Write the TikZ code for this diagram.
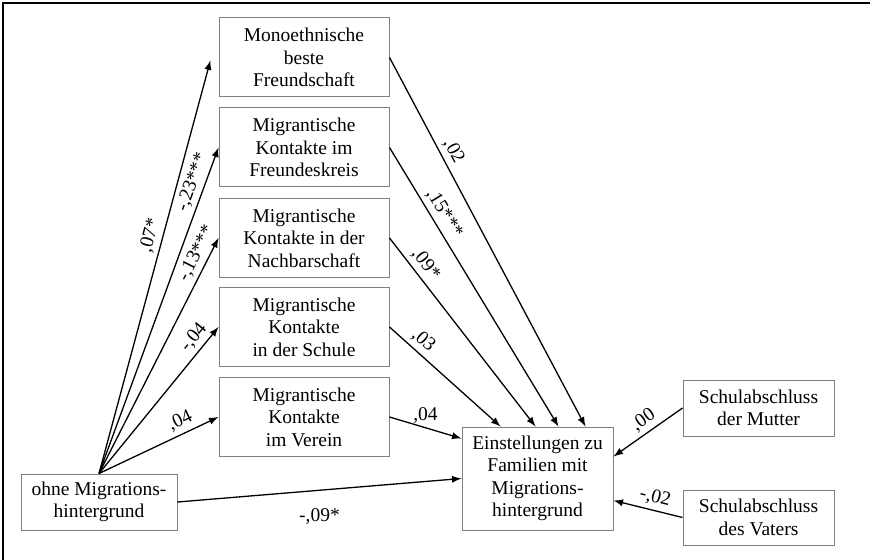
\documentclass[tikz,border=0pt]{standalone}
\usepackage{fontspec}
\setmainfont{Liberation Serif}
\usetikzlibrary{arrows}
\begin{document}
\begin{tikzpicture}[x=0.5pt,y=-0.5pt]
\tikzstyle{kasten}=[draw=gray, line width=0.5pt, minimum width=85pt, minimum height=39.5pt, inner sep=1pt, align=center, font=\rmfamily\fontsize{9.75}{11.25}\selectfont]
\tikzstyle{pfeil}=[-latex, line width=0.65pt]
\tikzstyle{wert}=[font=\rmfamily\fontsize{9.75}{11.25}\selectfont, inner sep=2pt]
\useasboundingbox (0,0) rectangle (870,560);
\draw[line width=1pt] (870,3) -- (3,3) -- (3,560);
% Kasten
\draw (304,57.5) node (mono) [kasten] {Monoethnische\\beste\\Freundschaft};
\draw (304,147.5) node (freund) [kasten] {Migrantische\\Kontakte im\\Freundeskreis};
\draw (304,238) node (nachbar) [kasten] {Migrantische\\Kontakte in der\\Nachbarschaft};
\draw (304,327) node (schule) [kasten] {Migrantische\\Kontakte\\in der Schule};
\draw (304,417) node (verein) [kasten] {Migrantische\\Kontakte\\im Verein};
\draw (99,502) node (ohne) [kasten, minimum width=78pt, minimum height=28pt] {ohne Migrations-\\hintergrund};
\draw (537.5,478.5) node (ziel) [kasten, minimum width=75.5pt, minimum height=51.5pt] {Einstellungen zu\\Familien mit\\Migrations-\\hintergrund};
\draw (758.5,408) node (mutter) [kasten, minimum width=75.5pt, minimum height=28pt] {Schulabschluss\\der Mutter};
\draw (758.5,517.5) node (vater) [kasten, minimum width=75.5pt, minimum height=27.5pt] {Schulabschluss\\des Vaters};
% Pfade
\draw [pfeil, shorten >=15.5pt] (ohne.north) -- ([yshift=13.5pt]mono.west) node [wert, sloped, above, pos=.53] {,07*};
\draw [pfeil] (ohne.north) -- (freund.west) node [wert, sloped, above, pos=.88] {-,23***};
\draw [pfeil] (ohne.north) -- (nachbar.west) node [wert, sloped, above, pos=.91] {-,13***};
\draw [pfeil] (ohne.north) -- (schule.west) node [wert, sloped, above, pos=.875] {-,04};
\draw [pfeil] (ohne.north) -- (verein.west) node [wert, sloped, above, pos=.725] {,04};
\draw [pfeil] (mono.east) -- ([xshift=62pt]ziel.north west) node [wert, sloped, above, pos=.27] {,02};
\draw [pfeil] (freund.east) -- ([xshift=48.5pt]ziel.north west) node [wert, sloped, above, pos=.26] {,15***};
\draw [pfeil] (nachbar.east) -- ([xshift=37pt]ziel.north west) node [wert, sloped, above, pos=.18] {,09*};
\draw [pfeil] (schule.east) -- ([xshift=19.5pt]ziel.north west) node [wert, sloped, above, pos=.23] {,03};
\draw [pfeil] (verein.east) -- ([yshift=-6pt]ziel.north west) node [wert, above, pos=.5] {,04};
\draw [pfeil] (ohne.east) -- ([yshift=-26pt]ziel.north west) node [wert, below=7pt, pos=.5] {-,09*};
\draw [pfeil] (mutter.west) -- ([yshift=-15pt]ziel.north east) node [wert, sloped, above, pos=.46] {,00};
\draw [pfeil] (vater.west) -- ([yshift=-37pt]ziel.north east) node [wert, sloped, above, pos=.44] {-,02};
\end{tikzpicture}
\end{document}
